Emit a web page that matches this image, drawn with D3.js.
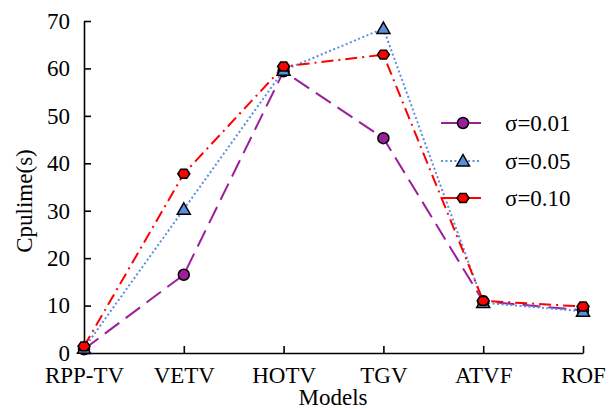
<!doctype html>
<html>
<head>
    <script src="https://d3js.org/d3.v7.min.js"></script>
</head>
<body style="margin:0">
<div id="chart"></div>
<script>
    // data
    var models = ["RPP-TV", "VETV", "HOTV", "TGV", "ATVF", "ROF"];
    var sigma001 = [0.8, 16.5, 59.4, 45.3, 10.9, 9.0];
    var sigma005 = [1.0, 30.3, 59.6, 68.4, 10.6, 8.8];
    var sigma010 = [1.4, 37.8, 60.4, 62.9, 11.0, 9.8];
    var yTicks = [0, 10, 20, 30, 40, 50, 60, 70];
    var seriesNames = ["σ=0.01", "σ=0.05", "σ=0.10"];

    var width = 609, height = 409;
    var x0 = 84, x1 = 583, yTop = 21, yBot = 353;
    var fs = 23;

    var svg = d3.select("#chart").append("svg")
        .attr("width", width)
        .attr("height", height)
        .attr("font-family", "Liberation Serif");

    var x = d3.scalePoint().domain(models).range([x0, x1]);
    var y = d3.scaleLinear().domain([0, 70]).range([yBot, yTop]);

    function serif(sel) {
        sel.attr("font-family", "Liberation Serif")
            .style("font-family", "'Liberation Serif'");
    }

    // axes
    var xAxis = svg.append("g")
        .attr("transform", "translate(0," + yBot + ")")
        .call(d3.axisBottom(x).tickSizeInner(-7).tickSizeOuter(0).tickPadding(14));
    var yAxis = svg.append("g")
        .attr("transform", "translate(" + x0 + ",0)")
        .call(d3.axisLeft(y).tickValues(yTicks).tickSizeInner(-7).tickSizeOuter(0).tickPadding(14));

    [xAxis, yAxis].forEach(function(a){
        a.attr("font-family", "Liberation Serif").attr("font-size", fs);
        a.select(".domain").attr("stroke", "#000").attr("stroke-width", 1.6);
        a.selectAll(".tick line").attr("stroke", "#000").attr("stroke-width", 1.6);
        a.selectAll("text").attr("font-size", fs).attr("fill", "#000").call(serif);
    });

    svg.append("text")
        .attr("x", 333)
        .attr("y", 405)
        .attr("text-anchor", "middle")
        .attr("font-size", fs)
        .call(serif)
        .text("Models");

    svg.append("text")
        .attr("transform", "translate(32,201) rotate(-90)")
        .attr("text-anchor", "middle")
        .attr("font-size", fs)
        .call(serif)
        .text("Cpulime(s)");

    var series = [
        { name: seriesNames[0], values: sigma001, color: "#9b1f9b", dash: "18,8", marker: "circle" },
        { name: seriesNames[1], values: sigma005, color: "#5b8fdc", dash: "2,2.5", marker: "triangle" },
        { name: seriesNames[2], values: sigma010, color: "#ff0000", dash: "12,5,2,5", marker: "hexagon" }
    ];

    var line = d3.line()
        .x(function(d, i){ return x(models[i]); })
        .y(function(d){ return y(d); });

    function drawMarker(g, type, cx, cy, fill) {
        if (type == "circle") {
            g.append("circle").attr("cx", cx).attr("cy", cy).attr("r", 5.5)
                .attr("fill", fill).attr("stroke", "#000").attr("stroke-width", 1.5);
        } else if (type == "triangle") {
            var s = 6.5;
            g.append("path")
                .attr("d", "M" + cx + "," + (cy - s) + "L" + (cx + s) + "," + (cy + s * 0.75) + "L" + (cx - s) + "," + (cy + s * 0.75) + "Z")
                .attr("fill", fill).attr("stroke", "#000").attr("stroke-width", 1.5);
        } else {
            var r = 6, pts = [];
            for (var k = 0; k < 6; k++) {
                var a = Math.PI / 3 * k;
                pts.push([cx + r * Math.cos(a), cy + r * 0.85 * Math.sin(a)]);
            }
            g.append("path").attr("d", "M" + pts.join("L") + "Z")
                .attr("fill", fill).attr("stroke", "#000").attr("stroke-width", 1.5);
        }
    }

    series.forEach(function(s){
        svg.append("path")
            .datum(s.values)
            .attr("d", line)
            .attr("fill", "none")
            .attr("stroke", s.color)
            .attr("stroke-width", 2)
            .attr("stroke-dasharray", s.dash);
    });

    series.forEach(function(s){
        var g = svg.append("g");
        s.values.forEach(function(v, i){
            drawMarker(g, s.marker, x(models[i]), y(v), s.color);
        });
    });

    // legend
    var legendY = [123, 161, 198];
    series.forEach(function(s, i){
        var g = svg.append("g");
        g.append("line")
            .attr("x1", 441).attr("x2", 481)
            .attr("y1", legendY[i]).attr("y2", legendY[i])
            .attr("stroke", s.color).attr("stroke-width", 2)
            .attr("stroke-dasharray", i == 1 ? s.dash : null);
        drawMarker(g, s.marker, 463, legendY[i], s.color);
        g.append("text")
            .attr("x", 505).attr("y", legendY[i] + 8)
            .attr("font-size", fs)
            .call(serif)
            .text(s.name);
    });
</script>
</body>
</html>
